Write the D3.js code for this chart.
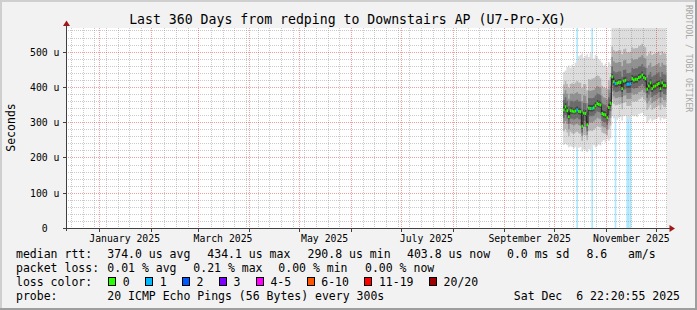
<!DOCTYPE html>
<html>
<head>
<meta charset="utf-8">
<script src="https://cdn.jsdelivr.net/npm/d3@7"></script>
<style>
  html, body { margin: 0; padding: 0; background: #fff; }
  svg { display: block; }
  text { font-family: "DejaVu Sans Mono", monospace; fill: #000; }
</style>
</head>
<body>
<svg id="chart" width="697" height="310"></svg>
<script>
// ---- data (rtt values in microseconds, one entry per day from firstDay) ----
const firstDay = new Date(Date.UTC(2025, 9, 6));

const median = [
  336, 345, 334, 317, 334, 333, 331, 333, 336, 332,
  331, 290, 327, 326, 294, 341, 340, 340, 342, 348,
  354, 352, 350, 326, 323, 322, 314, 343, 355, 430,
  416, 411, 412, 414, 414, 397, 418, 420, 409, 409,
  410, 425, 421, 423, 423, 428, 430, 435, 428, 425,
  395, 404, 413, 397, 402, 404, 408, 411, 397, 413,
  406, 405
];

// lost pings out of 20, per day
const loss = [
  0, 0, 0, 0, 0, 0, 0, 0, 1, 0,
  0, 0, 0, 0, 0, 0, 0, 1, 0, 0,
  0, 0, 0, 0, 0, 0, 0, 0, 0, 0,
  0, 1, 0, 0, 0, 0, 0, 0, 1, 1,
  1, 0, 0, 0, 0, 0, 0, 0, 0, 0,
  0, 0, 0, 0, 0, 0, 0, 0, 0, 0,
  0, 0
];

// sorted ping ranks (smoke)
const ping01 = [
  237, 240, 236, 230, 233, 231, 228, 232, 226, 229, 231, 218, 224, 221, 216, 225, 222, 232, 236, 230,
  234, 238, 235, 246, 250, 244, 252, 248, 255,
  318, 312, 315, 308, 314, 316, 306, 318, 320, 312, 310, 314, 322, 318, 320, 316, 324, 326, 328, 322,
  318, 300, 306, 312, 304, 308, 310, 312, 316, 306, 314, 310, 312
];
const ping03 = [
  276, 282, 272, 262, 274, 270, 268, 272, 274, 270, 268, 248, 266, 264, 250, 276, 278, 276, 280, 284,
  290, 288, 286, 272, 270, 268, 264, 282, 292,
  366, 354, 349, 350, 352, 352, 338, 356, 358, 347, 347, 348, 362, 359, 361, 361, 366, 368, 372, 366,
  362, 336, 343, 351, 337, 341, 343, 346, 349, 337, 351, 345, 344
];
const ping05 = [
  298, 305, 296, 282, 296, 294, 292, 295, 297, 293, 292, 262, 288, 287, 265, 300, 301, 300, 303, 308,
  314, 312, 310, 290, 287, 286, 280, 303, 314,
  388, 374, 369, 370, 372, 372, 356, 376, 378, 367, 367, 368, 383, 379, 381, 381, 386, 388, 393, 386,
  383, 355, 362, 371, 356, 360, 362, 366, 369, 356, 371, 364, 363
];
const ping07 = [
  314, 322, 312, 297, 312, 311, 309, 311, 314, 310, 309, 272, 305, 304, 276, 318, 318, 318, 320, 326,
  332, 330, 328, 305, 302, 301, 294, 321, 333,
  405, 391, 386, 387, 389, 389, 373, 393, 395, 384, 384, 385, 400, 396, 398, 398, 403, 405, 410, 403,
  400, 371, 379, 388, 373, 377, 379, 383, 386, 373, 388, 381, 380
];
const ping09 = [
  328, 337, 326, 310, 326, 325, 323, 325, 328, 324, 323, 283, 319, 318, 287, 333, 332, 332, 334, 340,
  346, 344, 342, 318, 315, 314, 307, 335, 347,
  420, 406, 401, 402, 404, 404, 387, 408, 410, 399, 399, 400, 415, 411, 413, 413, 418, 420, 425, 418,
  415, 385, 394, 403, 387, 392, 394, 398, 401, 387, 403, 396, 395
];
const ping12 = [
  346, 355, 344, 328, 344, 343, 341, 343, 346, 342, 341, 302, 337, 336, 305, 351, 350, 350, 352, 358,
  364, 362, 360, 336, 333, 332, 325, 353, 365,
  440, 426, 421, 422, 424, 424, 408, 428, 430, 419, 419, 420, 435, 431, 433, 433, 438, 440, 445, 438,
  435, 406, 414, 423, 408, 412, 414, 418, 421, 408, 423, 416, 415
];
const ping14 = [
  364, 372, 362, 348, 362, 362, 360, 362, 365, 361, 360, 332, 356, 355, 330, 370, 369, 369, 371, 377,
  383, 381, 378, 355, 352, 350, 344, 372, 384,
  460, 446, 442, 443, 445, 445, 430, 449, 451, 441, 441, 442, 456, 452, 454, 454, 459, 461, 466, 459,
  456, 428, 436, 444, 430, 434, 436, 440, 443, 430, 444, 437, 436
];
const ping16 = [
  382, 392, 382, 368, 382, 383, 380, 384, 387, 382, 381, 360, 378, 376, 356, 392, 390, 392, 393, 398,
  404, 402, 398, 376, 372, 370, 366, 394, 405,
  486, 474, 470, 470, 472, 472, 460, 476, 478, 468, 468, 469, 482, 478, 480, 480, 485, 487, 492, 485,
  482, 456, 463, 470, 458, 461, 463, 466, 469, 458, 470, 464, 463
];
const ping18 = [
  408, 418, 410, 398, 410, 412, 410, 414, 418, 414, 413, 398, 410, 409, 392, 424, 422, 425, 426, 430,
  434, 432, 426, 405, 400, 398, 396, 420, 430,
  516, 506, 502, 503, 505, 505, 494, 508, 510, 500, 500, 501, 514, 510, 512, 512, 517, 519, 524, 517,
  514, 490, 496, 503, 492, 495, 497, 500, 502, 492, 503, 497, 496
];
const ping20 = [
  444, 448, 458, 462, 456, 464, 460, 470, 474, 488, 492, 496, 484, 490, 494, 486, 497, 490, 482, 492,
  488, 480, 476, 470, 462, 468, 458, 472, 466,
  650, 640, 660, 645, 655, 670, 630, 648, 662, 640, 652, 644, 668, 658, 646, 650, 672, 660, 680, 654,
  648, 620, 634, 642, 628, 636, 640, 646, 650, 632, 644, 638, 636
];

const lossLabels = ["0", "1", "2", "3", "4-5", "6-10", "11-19", "20/20"];
const lossColors = ["#26ff00", "#00b8ff", "#0059ff", "#7e00ff", "#ff00ff", "#ff5500", "#ff0000", "#a10000"];

const title = "Last 360 Days from redping to Downstairs AP (U7-Pro-XG)";
const rttRow = [["median rtt:", 16], ["374.0 us avg", 107.3], ["434.1 us max", 207.3], ["290.8 us min", 307.5],
                ["403.8 us now", 407], ["0.0 ms sd", 507], ["8.6", 586.4], ["am/s", 628]];
const lossRow = [["packet loss:", 16], ["0.01 % avg", 107.3], ["0.21 % max", 193.3], ["0.00 % min", 278.3],
                 ["0.00 % now", 365]];
const probeText = "20 ICMP Echo Pings (56 Bytes) every 300s";
const stampText = "Sat Dec  6 22:20:55 2025";

// ---- layout ----
const width = 697, height = 310;
const plot = { left: 67, right: 667, top: 28, bottom: 228 };
const svg = d3.select("#chart");

const tStart = new Date(Date.UTC(2024, 11, 12, 9, 20));
const tEnd = new Date(Date.UTC(2025, 11, 7, 9, 20));
const x = d3.scaleUtc().domain([tStart, tEnd]).range([plot.left, plot.right]);
const y = d3.scaleLinear().domain([0, 567]).range([228.5, 28.5]);
const col = v => Math.round(v - 0.5);      // pixel column / row index
const crisp = v => col(v) + 0.5;

// background + 3d frame
svg.append("rect").attr("width", width).attr("height", height).attr("fill", "#f2f2f2");
svg.append("path").attr("d", `M0,0H${width}V2H2V${height}H0Z`).attr("fill", "#cfcfcf");
svg.append("path").attr("d", `M${width},${height}H0V${height - 2}H${width - 2}V0H${width}Z`).attr("fill", "#9e9e9e");

svg.append("rect")
  .attr("x", plot.left).attr("y", plot.top)
  .attr("width", plot.right - plot.left).attr("height", plot.bottom - plot.top + 1)
  .attr("fill", "#fff");

const defs = svg.append("defs");
defs.append("clipPath").attr("id", "clip")
  .append("rect")
  .attr("x", plot.left).attr("y", plot.top)
  .attr("width", plot.right - plot.left).attr("height", plot.bottom - plot.top + 1);

// 1px on / 1px off dot patterns for the rrdtool style grid
const minorGrid = "rgba(128,128,128,0.42)";
const majorGrid = "rgba(220,0,0,0.38)";
[["vmin", 1, 2, minorGrid], ["vmaj", 1, 2, majorGrid], ["hmin", 2, 1, minorGrid], ["hmaj", 2, 1, majorGrid]]
  .forEach(([id, w, h, c]) => {
    defs.append("pattern").attr("id", id)
      .attr("patternUnits", "userSpaceOnUse").attr("width", w).attr("height", h)
      .append("rect").attr("width", 1).attr("height", 1).attr("fill", c);
  });

const g = svg.append("g").attr("clip-path", "url(#clip)");

const n = median.length;
const days = d3.range(n + 1).map(i => d3.utcDay.offset(firstDay, i));
const idx = d3.range(n + 1);
const at = (arr, i) => arr[Math.min(i, n - 1)];

const lossIndex = l => l === 0 ? 0 : l === 1 ? 1 : l === 2 ? 2 : l === 3 ? 3 : l <= 5 ? 4 : l <= 10 ? 5 : l <= 19 ? 6 : 7;

// loss background columns
g.selectAll(".lossbg")
  .data(idx.slice(0, n).filter(i => loss[i] > 0))
  .join("rect")
  .attr("x", i => x(days[i]))
  .attr("width", i => x(days[i + 1]) - x(days[i]))
  .attr("y", plot.top)
  .attr("height", plot.bottom - plot.top)
  .attr("fill", i => d3.interpolateRgb(lossColors[lossIndex(loss[i])], "#fff")(0.68));

// smoke
const bands = [
  [ping01, ping20, "#dddddd"],
  [ping03, ping18, "#b7b7b7"],
  [ping05, ping16, "#919191"],
  [ping07, ping14, "#6b6b6b"],
  [ping09, ping12, "#454545"]
];
bands.forEach(([lo, hi, color]) => {
  const area = d3.area()
    .x(i => x(days[i]))
    .y0(i => y(at(lo, i)))
    .y1(i => y(at(hi, i)))
    .curve(d3.curveStepAfter);
  g.append("path").attr("d", area(idx)).attr("fill", color);
});

// median line + loss coloured median marks
const medLine = d3.line()
  .x(i => x(days[i]))
  .y(i => y(at(median, i)))
  .curve(d3.curveStepAfter);
g.append("path").attr("d", medLine(idx)).attr("fill", "none").attr("stroke", "#202020").attr("stroke-width", 1);

g.selectAll(".med")
  .data(idx.slice(0, n))
  .join("rect")
  .attr("x", i => x(days[i]))
  .attr("width", i => x(days[i + 1]) - x(days[i]))
  .attr("y", i => y(median[i]) - 1.5)
  .attr("height", 3)
  .attr("fill", i => lossColors[lossIndex(loss[i])]);

// grid (on top, like rrdtool)
const grid = svg.append("g").attr("shape-rendering", "crispEdges");
const months = d3.utcMonth.range(tStart, tEnd);
const monthCols = months.map(d => col(x(d)));
// weekly lines, skipped where they would crowd a month line
const sundays = d3.utcSunday.range(tStart, tEnd)
  .filter(d => monthCols.every(mc => Math.abs(col(x(d)) - mc) > 2));
const yMinor = d3.range(20, 567, 20).filter(v => v % 100 !== 0);
const yMajor = d3.range(100, 567, 100);

grid.selectAll(".gvmin").data(sundays).join("rect")
  .attr("x", d => col(x(d))).attr("width", 1)
  .attr("y", plot.top).attr("height", plot.bottom - plot.top)
  .attr("fill", "url(#vmin)");
grid.selectAll(".ghmin").data(yMinor).join("rect")
  .attr("x", plot.left).attr("width", plot.right - plot.left)
  .attr("y", v => col(y(v))).attr("height", 1)
  .attr("fill", "url(#hmin)");
grid.selectAll(".gvmaj").data(months).join("rect")
  .attr("x", d => col(x(d))).attr("width", 1)
  .attr("y", plot.top).attr("height", plot.bottom - plot.top)
  .attr("fill", "url(#vmaj)");
grid.selectAll(".ghmaj").data(yMajor).join("rect")
  .attr("x", plot.left).attr("width", plot.right - plot.left)
  .attr("y", v => col(y(v))).attr("height", 1)
  .attr("fill", "url(#hmaj)");

// axes
const axisColor = "#404040";
const ax = svg.append("g").attr("shape-rendering", "crispEdges");
ax.append("line").attr("x1", 64).attr("x2", 670).attr("y1", 228.5).attr("y2", 228.5).attr("stroke", axisColor);
ax.append("line").attr("x1", 66.5).attr("x2", 66.5).attr("y1", 231).attr("y2", 25).attr("stroke", axisColor);
ax.selectAll(".xt").data(months).join("line")
  .attr("x1", d => crisp(x(d))).attr("x2", d => crisp(x(d)))
  .attr("y1", 229).attr("y2", 232).attr("stroke", axisColor);
ax.selectAll(".yt").data(yMajor.concat([0])).join("line")
  .attr("x1", 62.5).attr("x2", 66).attr("y1", v => crisp(y(v))).attr("y2", v => crisp(y(v)))
  .attr("stroke", axisColor);
svg.append("path").attr("d", "M66.5,20.5L63,26L70,26Z").attr("fill", "#a01818");
svg.append("path").attr("d", "M675,228.5L669.5,225L669.5,232Z").attr("fill", "#a01818");

// y tick labels
svg.selectAll(".ylab").data([0].concat(yMajor)).join("text")
  .attr("xml:space", "preserve")
  .attr("x", 59.5)
  .attr("y", v => crisp(y(v)) + 3.6)
  .attr("text-anchor", "end")
  .attr("font-size", "9.8px")
  .text(v => v === 0 ? "0  " : `${v} u`);

// x tick labels
const fmtMonth = d3.utcFormat("%B %Y");
const labelMonths = d3.utcMonth.every(2).range(new Date(Date.UTC(2025, 0, 1)), tEnd)
  .filter(d => d3.utcDay.offset(d, 15) < tEnd);
svg.selectAll(".xlab").data(labelMonths).join("text")
  .attr("x", d => x(d3.utcDay.offset(d, 15)))
  .attr("y", 241.5)
  .attr("text-anchor", "middle")
  .attr("font-size", "9.8px")
  .text(fmtMonth);

// unit label
svg.append("text")
  .attr("transform", "translate(15,127.5) rotate(-90)")
  .attr("text-anchor", "middle")
  .attr("font-size", "11.5px")
  .text("Seconds");

// title
svg.append("text")
  .attr("x", 347.5).attr("y", 24)
  .attr("text-anchor", "middle")
  .attr("font-size", "13.2px")
  .text(title);

// watermark
svg.append("text")
  .attr("transform", "translate(685.5,5) rotate(90)")
  .attr("font-size", "8.1px")
  .style("fill", "#a8a8a8")
  .text("RRDTOOL / TOBI OETIKER");

// legend
const legend = svg.append("g").attr("font-size", "11.5px");
const rowY = [257.5, 271.75, 286, 300.25];
legend.selectAll(".r1").data(rttRow).join("text")
  .attr("x", d => d[1]).attr("y", rowY[0]).text(d => d[0]);
legend.selectAll(".r2").data(lossRow).join("text")
  .attr("x", d => d[1]).attr("y", rowY[1]).text(d => d[0]);
legend.append("text").attr("x", 16).attr("y", rowY[2]).text("loss color:");

let sx = 108.5;
lossLabels.forEach((lab, k) => {
  legend.append("rect")
    .attr("x", sx).attr("y", 277.5).attr("width", 7).attr("height", 8)
    .attr("fill", lossColors[k]).attr("stroke", "#000").attr("stroke-width", 1)
    .attr("shape-rendering", "crispEdges");
  legend.append("text").attr("x", sx + 14.2).attr("y", rowY[2]).text(lab);
  sx += 14.2 + lab.length * 6.93 + 15.8;
});

legend.append("text").attr("x", 16).attr("y", rowY[3]).text("probe:");
legend.append("text").attr("x", 107.3).attr("y", rowY[3]).text(probeText);
legend.append("text").attr("xml:space", "preserve")
  .attr("x", 680).attr("y", rowY[3]).attr("text-anchor", "end").text(stampText);
</script>
</body>
</html>
